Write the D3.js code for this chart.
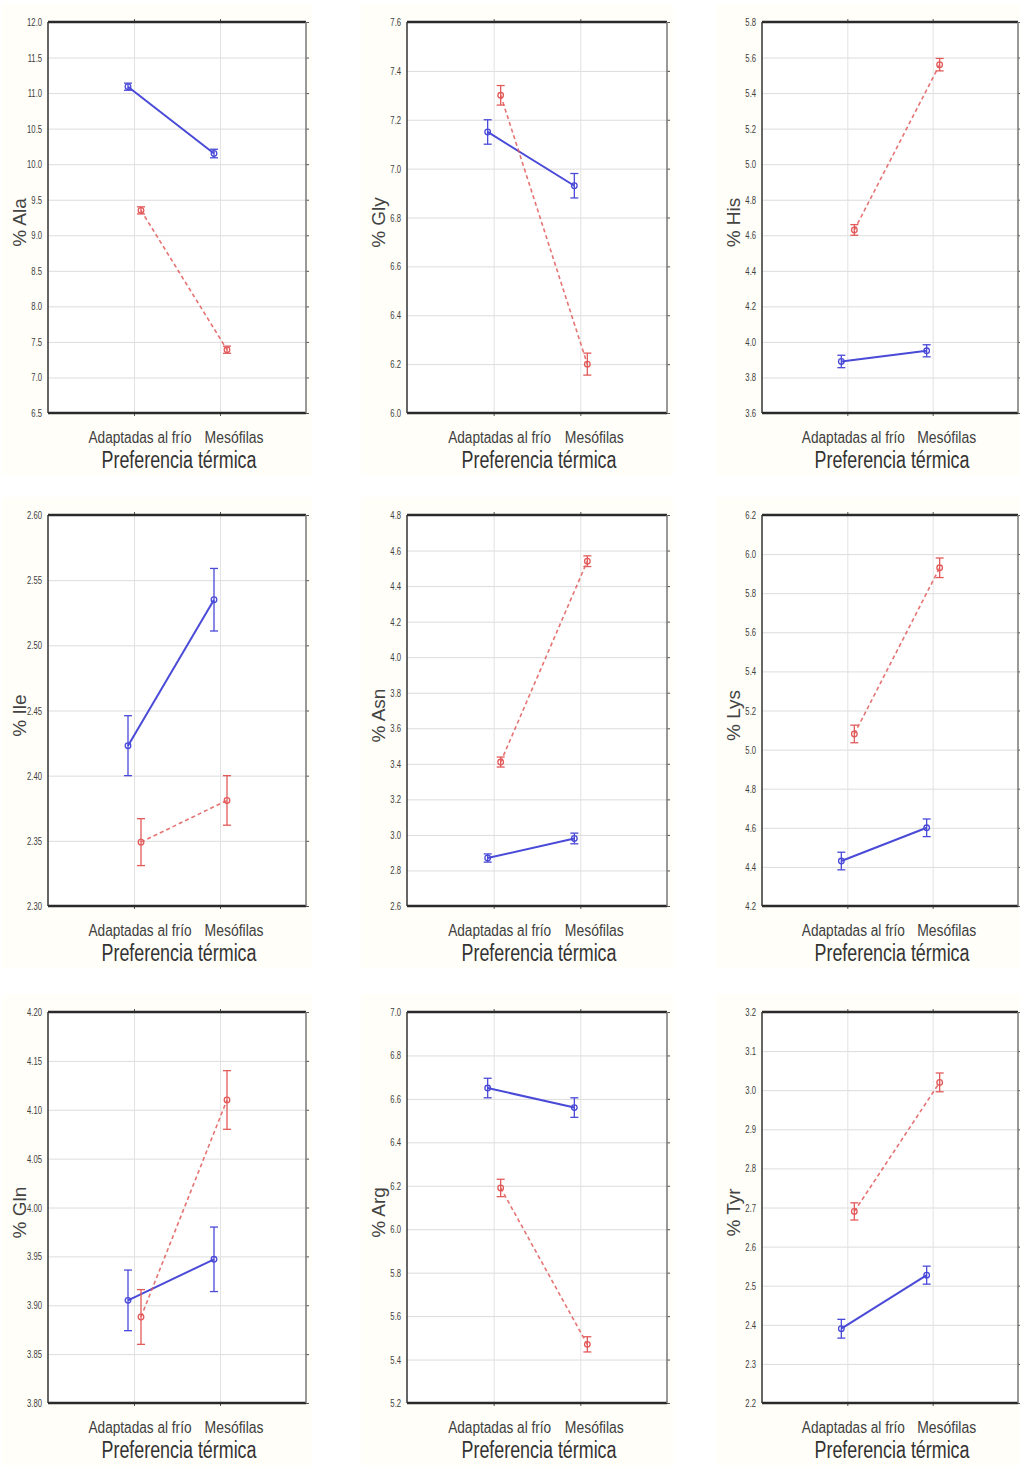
<!DOCTYPE html>
<html>
<head>
<meta charset="utf-8">
<script src="https://cdn.jsdelivr.net/npm/d3@7"></script>
<style>
  html, body { margin: 0; padding: 0; background: #ffffff; }
  svg { display: block; }
</style>
</head>
<body>
<svg id="chart" width="1020" height="1468"></svg>
<script>
// ---------------- DATA ----------------
const categories = ["Adaptadas al frío", "Mesófilas"];
const aminoAcids = ["Ala", "Gly", "His", "Ile", "Asn", "Lys", "Gln", "Arg", "Tyr"];

// blue (solid) series: means and half-width of error bar, [Adaptadas, Mesófilas]
const blueMean = [[11.09, 10.15], [7.15, 6.93], [3.89, 3.95], [2.423, 2.535], [2.87, 2.98],
                  [4.43, 4.60], [3.905, 3.947], [6.65, 6.56], [2.39, 2.527]];
const blueErr  = [[0.05, 0.06], [0.05, 0.05], [0.035, 0.034], [0.023, 0.024], [0.023, 0.03],
                  [0.045, 0.045], [0.031, 0.033], [0.045, 0.045], [0.024, 0.023]];
// red (dashed) series
const redMean  = [[9.35, 7.39], [7.30, 6.20], [4.63, 5.56], [2.349, 2.381], [3.41, 4.54],
                  [5.08, 5.93], [3.888, 4.11], [6.19, 5.47], [2.69, 3.02]];
const redErr   = [[0.05, 0.05], [0.04, 0.045], [0.03, 0.035], [0.018, 0.019], [0.028, 0.03],
                  [0.045, 0.05], [0.028, 0.03], [0.04, 0.035], [0.022, 0.024]];

// y tick labels per panel (bottom to top)
const yTickLabels = [
  ["6.5", "7.0", "7.5", "8.0", "8.5", "9.0", "9.5", "10.0", "10.5", "11.0", "11.5", "12.0"],
  ["6.0", "6.2", "6.4", "6.6", "6.8", "7.0", "7.2", "7.4", "7.6"],
  ["3.6", "3.8", "4.0", "4.2", "4.4", "4.6", "4.8", "5.0", "5.2", "5.4", "5.6", "5.8"],
  ["2.30", "2.35", "2.40", "2.45", "2.50", "2.55", "2.60"],
  ["2.6", "2.8", "3.0", "3.2", "3.4", "3.6", "3.8", "4.0", "4.2", "4.4", "4.6", "4.8"],
  ["4.2", "4.4", "4.6", "4.8", "5.0", "5.2", "5.4", "5.6", "5.8", "6.0", "6.2"],
  ["3.80", "3.85", "3.90", "3.95", "4.00", "4.05", "4.10", "4.15", "4.20"],
  ["5.2", "5.4", "5.6", "5.8", "6.0", "6.2", "6.4", "6.6", "6.8", "7.0"],
  ["2.2", "2.3", "2.4", "2.5", "2.6", "2.7", "2.8", "2.9", "3.0", "3.1", "3.2"]
];
const xAxisTitle = "Preferencia térmica";

// ---------------- LAYOUT ----------------
const colLeft = [48, 407, 762];
const colWidth = [258, 260, 256];
const rowTop = [22, 515, 1012];
const plotH = 391;

const BLUE = "#4a4ad8";
const RED = "#e25a5a";
const TXT = "#404040";

const svg = d3.select("#chart");

aminoAcids.forEach((aa, i) => {
  const col = i % 3, row = Math.floor(i / 3);
  const left = colLeft[col], right = left + colWidth[col];
  const top = rowTop[row], bottom = top + plotH;
  const w = right - left;

  const g = svg.append("g");

  // very faint cream background behind the panel
  g.append("rect")
    .attr("x", left - 46).attr("y", top - 18)
    .attr("width", w + 52).attr("height", plotH + 80)
    .attr("fill", "#fffef8");
  g.append("rect")
    .attr("x", left).attr("y", top)
    .attr("width", w).attr("height", plotH)
    .attr("fill", "#ffffff");

  const tickVals = yTickLabels[i].map(Number);
  const y = d3.scaleLinear()
    .domain([tickVals[0], tickVals[tickVals.length - 1]])
    .range([bottom, top]);
  const x = d3.scalePoint().domain(categories).range([left, right]).padding(1);

  // horizontal gridlines
  g.append("g")
    .attr("transform", `translate(${left},0)`)
    .call(d3.axisLeft(y).tickValues(tickVals).tickSize(-w).tickFormat(""))
    .call(s => s.select(".domain").remove())
    .call(s => s.selectAll("line").attr("stroke", "#dcdcdc").attr("stroke-width", 1));

  // vertical gridlines at categories
  g.append("g")
    .attr("transform", `translate(0,${bottom})`)
    .call(d3.axisBottom(x).tickSize(-plotH).tickFormat(""))
    .call(s => s.select(".domain").remove())
    .call(s => s.selectAll("line").attr("stroke", "#e2e2e2").attr("stroke-width", 1));

  // right-side small tick marks
  g.append("g")
    .attr("transform", `translate(${right},0)`)
    .call(d3.axisRight(y).tickValues(tickVals).tickSize(3).tickFormat(""))
    .call(s => s.select(".domain").remove())
    .call(s => s.selectAll("line").attr("stroke", "#555"));
  // top / bottom tick marks at categories
  g.append("g")
    .attr("transform", `translate(0,${top})`)
    .call(d3.axisTop(x).tickSize(3).tickFormat(""))
    .call(s => s.select(".domain").remove())
    .call(s => s.selectAll("line").attr("stroke", "#555"));
  g.append("g")
    .attr("transform", `translate(0,${bottom})`)
    .call(d3.axisBottom(x).tickSize(3).tickFormat(""))
    .call(s => s.select(".domain").remove())
    .call(s => s.selectAll("line").attr("stroke", "#555"));

  // y tick labels
  const yAx = g.append("g")
    .attr("transform", `translate(${left},0)`)
    .call(d3.axisLeft(y).tickValues(tickVals).tickSize(0).tickFormat((d, j) => yTickLabels[i][j]));
  yAx.select(".domain").remove();
  yAx.selectAll("text")
    .attr("x", -8.5)
    .attr("transform", "scale(0.7,1)")
    .attr("font-family", "Liberation Sans, Arial, sans-serif")
    .attr("font-size", 11)
    .attr("fill", TXT);

  // frame
  g.append("line").attr("x1", left).attr("x2", right).attr("y1", top).attr("y2", top)
    .attr("stroke", "#2a2a2a").attr("stroke-width", 2.5);
  g.append("line").attr("x1", left).attr("x2", right).attr("y1", bottom).attr("y2", bottom)
    .attr("stroke", "#2a2a2a").attr("stroke-width", 2.5);
  g.append("line").attr("x1", left).attr("x2", left).attr("y1", top).attr("y2", bottom)
    .attr("stroke", "#333").attr("stroke-width", 1.5);
  g.append("line").attr("x1", right).attr("x2", right).attr("y1", top).attr("y2", bottom)
    .attr("stroke", "#777").attr("stroke-width", 1.5);

  // series
  const series = [
    { mean: blueMean[i], err: blueErr[i], color: BLUE, dash: null, width: 2, off: -6 },
    { mean: redMean[i], err: redErr[i], color: RED, dash: "4,3", width: 1.6, off: 7 }
  ];
  series.forEach(s => {
    const pts = categories.map((c, j) => ({ cx: x(c) + s.off, m: s.mean[j], e: s.err[j] }));
    g.append("path")
      .datum(pts)
      .attr("d", d3.line().x(d => d.cx).y(d => y(d.m)))
      .attr("fill", "none")
      .attr("stroke", s.color)
      .attr("stroke-width", s.width)
      .attr("stroke-dasharray", s.dash)
      .attr("opacity", s.dash ? 0.85 : 1);
    pts.forEach(d => {
      const eb = g.append("g").attr("stroke", s.color).attr("stroke-width", 1.3).attr("fill", "none");
      eb.append("line").attr("x1", d.cx).attr("x2", d.cx).attr("y1", y(d.m - d.e)).attr("y2", y(d.m + d.e));
      eb.append("line").attr("x1", d.cx - 4).attr("x2", d.cx + 4).attr("y1", y(d.m - d.e)).attr("y2", y(d.m - d.e));
      eb.append("line").attr("x1", d.cx - 4).attr("x2", d.cx + 4).attr("y1", y(d.m + d.e)).attr("y2", y(d.m + d.e));
      eb.append("circle").attr("cx", d.cx).attr("cy", y(d.m)).attr("r", 2.8);
    });
  });

  // category labels
  const catDx = [6, 14], catLen = [103, 59];
  categories.forEach((c, j) => {
    g.append("text")
      .attr("x", x(c) + catDx[j])
      .attr("y", bottom + 30)
      .attr("text-anchor", "middle")
      .attr("font-family", "Liberation Sans, Arial, sans-serif")
      .attr("font-size", 16)
      .attr("fill", TXT)
      .attr("textLength", catLen[j])
      .attr("lengthAdjust", "spacingAndGlyphs")
      .text(c);
  });

  // x title
  g.append("text")
    .attr("x", left + w / 2 + 2)
    .attr("y", bottom + 55)
    .attr("text-anchor", "middle")
    .attr("font-family", "Liberation Sans, Arial, sans-serif")
    .attr("font-size", 23)
    .attr("fill", "#333")
    .attr("textLength", 155)
    .attr("lengthAdjust", "spacingAndGlyphs")
    .text(xAxisTitle);

  // y title
  g.append("text")
    .attr("transform", `translate(${left - 22},${(top + bottom) / 2 + 5}) rotate(-90)`)
    .attr("text-anchor", "middle")
    .attr("font-family", "Liberation Sans, Arial, sans-serif")
    .attr("font-size", 19)
    .attr("fill", "#444")
    .text("% " + aa);
});
</script>
</body>
</html>
